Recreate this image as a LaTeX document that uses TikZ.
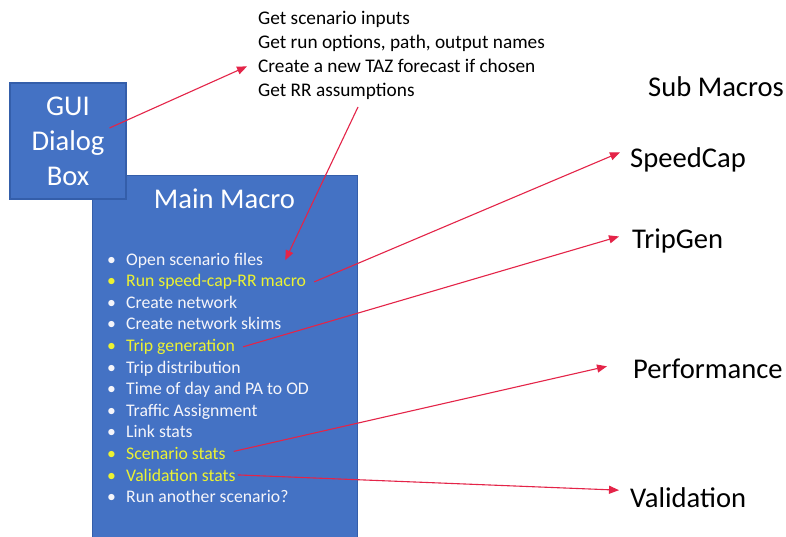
\documentclass[tikz,border=0pt]{standalone}
\usepackage{fontspec}
\setmainfont{Carlito}
\usetikzlibrary{arrows.meta,calc}
\definecolor{boxblue}{RGB}{68,114,196}
\definecolor{boxedge}{RGB}{52,94,170}
\definecolor{hiyel}{RGB}{236,242,50}
\definecolor{arrred}{RGB}{228,36,72}
\definecolor{itemwhite}{RGB}{245,245,250}
\tikzset{
  bluebox/.style={draw=boxedge, line width=1.2pt, fill=boxblue, inner sep=0pt},
  bigtxt/.style={font=\fontsize{28.6}{35}\selectfont, inner sep=0pt},
  toptxt/.style={font=\fontsize{19.3}{24}\selectfont, inner sep=0pt, anchor=base west, text=black},
  itemtxt/.style={font=\fontsize{17.7}{21.6}\selectfont, inner sep=0pt, anchor=base west, text=itemwhite},
  hiitem/.style={itemtxt, text=hiyel},
  sublabel/.style={bigtxt, anchor=base west, text=black},
  redarrow/.style={draw=arrred, line width=1.1pt, -{Triangle[length=10pt,width=8pt]}},
}
\newcommand{\bul}{\makebox[19pt][l]{\textbullet}}
\begin{document}
\begin{tikzpicture}[x=1pt,y=-1pt]
\useasboundingbox (0,0) rectangle (786,537);
\clip (0,0) rectangle (786,537);
\fill[white] (0,0) rectangle (786,537);

% Main macro box (behind the GUI box)
\node[bluebox, minimum width=265pt, minimum height=380pt, anchor=north west] (main) at (92,175) {};
\node[bigtxt, text=white, anchor=base] (title) at (224.5,208) {Main Macro};

% GUI box
\node[bluebox, bigtxt, text=white, minimum width=116pt, minimum height=116pt, align=center] (gui) at (68,141) {GUI\\Dialog\\Box};

% items
\node[itemtxt] (i1)  at (107,265.0) {\bul Open scenario files};
\node[hiitem]  (i2)  at (107,286.6) {\bul Run speed-cap-RR macro};
\node[itemtxt] (i3)  at (107,308.2) {\bul Create network};
\node[itemtxt] (i4)  at (107,329.8) {\bul Create network skims};
\node[hiitem]  (i5)  at (107,351.4) {\bul Trip generation};
\node[itemtxt] (i6)  at (107,373.0) {\bul Trip distribution};
\node[itemtxt] (i7)  at (107,394.6) {\bul Time of day and PA to OD};
\node[itemtxt] (i8)  at (107,416.2) {\bul Traffic Assignment};
\node[itemtxt] (i9)  at (107,437.8) {\bul Link stats};
\node[hiitem]  (i10) at (107,459.4) {\bul Scenario stats};
\node[hiitem]  (i11) at (107,481.0) {\bul Validation stats};
\node[itemtxt] (i12) at (107,502.6) {\bul Run another scenario?};

% top text
\node[toptxt] (t1) at (258,25) {Get scenario inputs};
\node[toptxt] (t2) at (258,49) {Get run options, path, output names};
\node[toptxt] (t3) at (258,73) {Create a new TAZ forecast if chosen};
\node[toptxt] (t4) at (258,97) {Get RR assumptions};

% sub macros
\node[sublabel] (sub)  at (648,97)  {Sub Macros};
\node[sublabel] (spd)  at (630,168) {SpeedCap};
\node[sublabel] (trip) at (632,248) {TripGen};
\node[sublabel] (perf) at (633,378) {Performance};
\node[sublabel] (val)  at (630,507) {Validation};

% arrows
\coordinate (guifrom) at ($(gui.center)+(41.5,-13)$);
\draw[redarrow] (guifrom) -- ($(t3.west)+(-11,0)$);
\coordinate (rrfrom) at ($(t4.base west)+(100,10)$);
\draw[redarrow] (rrfrom) -- ($(i1.east)+(22,0)$);
\draw[redarrow] ($(i2.east)+(8,0)$) -- ($(spd.west)+(-10,-8)$);
\draw[redarrow] ($(i5.east)+(8,0)$) -- ($(trip.west)+(-13,-4)$);
\draw[redarrow] ($(i10.east)+(8,-2)$) -- ($(perf.west)+(-26,-2)$);
\draw[redarrow] ($(i11.east)+(2,0)$) -- ($(val.west)+(-11,-7)$);
\end{tikzpicture}
\end{document}
